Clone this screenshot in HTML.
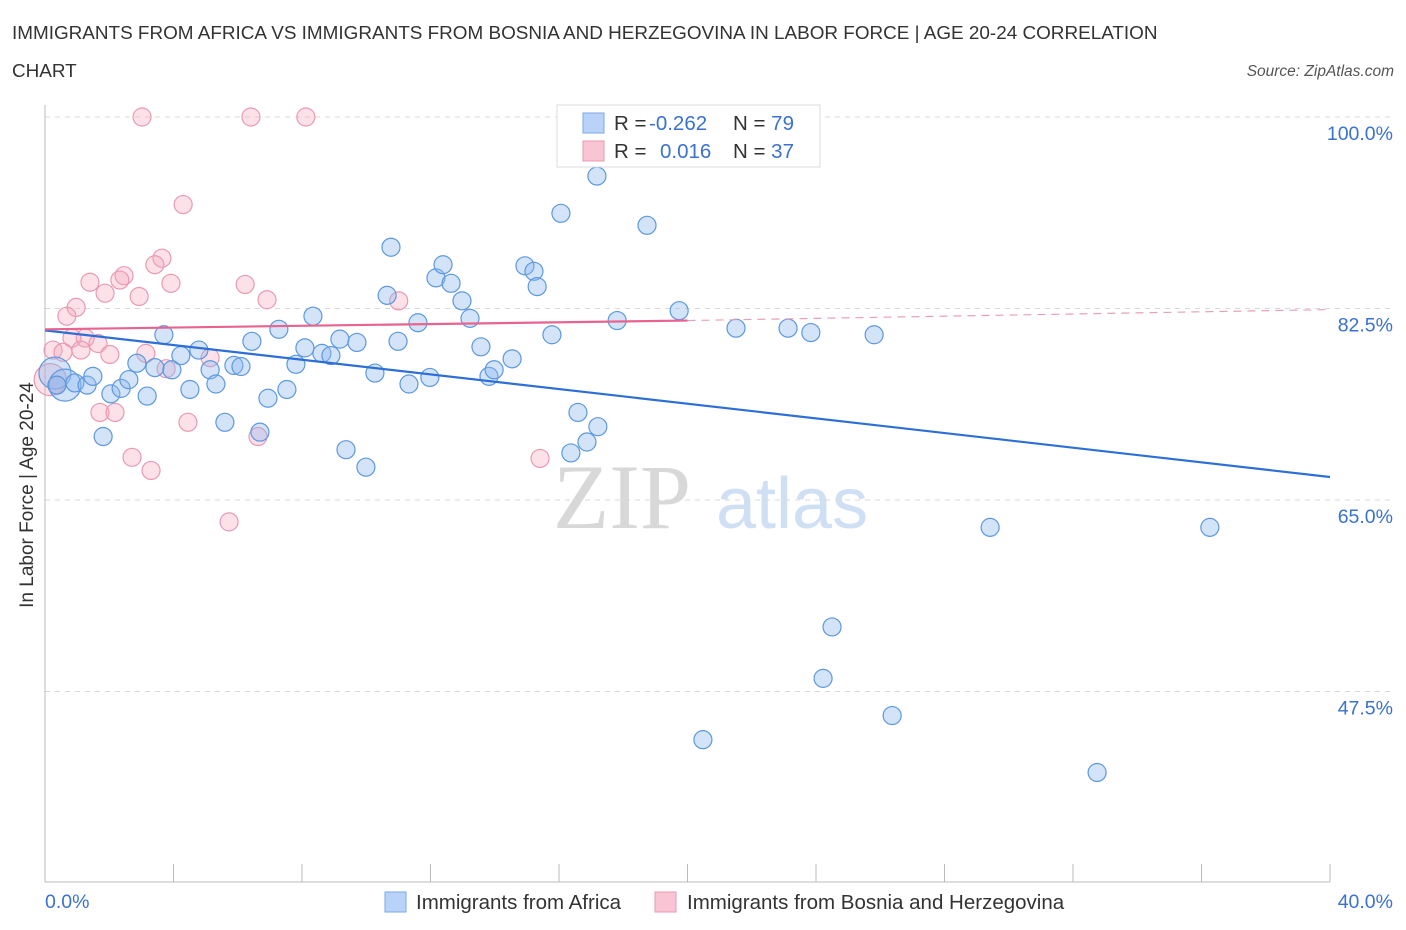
<!DOCTYPE html>
<html><head><meta charset="utf-8"><style>
body{margin:0;background:#fff;font-family:"Liberation Sans",sans-serif;}
svg{display:block}
</style></head><body>
<svg id="chart" width="1406" height="930" xmlns="http://www.w3.org/2000/svg">
<text x="12" y="39" font-size="18.9" fill="#333">IMMIGRANTS FROM AFRICA VS IMMIGRANTS FROM BOSNIA AND HERZEGOVINA IN LABOR FORCE | AGE 20-24 CORRELATION</text>
<text x="12" y="77" font-size="18.9" fill="#333">CHART</text>
<text x="1394" y="76" font-size="15.5" fill="#555" font-style="italic" text-anchor="end">Source: ZipAtlas.com</text>
<text x="33" y="495" font-size="19" fill="#333" text-anchor="middle" transform="rotate(-90 33 495)">In Labor Force | Age 20-24</text>
<g>
<text x="553" y="528" font-size="92" font-family="Liberation Serif,serif" fill="#d8d8d8">ZIP</text>
<text x="716" y="528" font-size="72" fill="#d0e0f4">atlas</text>
</g>
<g id="grid"></g><g id="axes"></g><g id="marks"></g><g id="trends"></g>
<g>
<rect x="557" y="105" width="263" height="62" fill="#fff" stroke="#ddd"/>
<rect x="583" y="113" width="21" height="20" fill="#b8d3f7" stroke="#7aaae8"/>
<rect x="583" y="141" width="21" height="20" fill="#f9c4d3" stroke="#ea9ab2"/>
<text x="614" y="130" font-size="20.5" fill="#333">R = <tspan x="649" fill="#3a72d0">-0.262</tspan><tspan x="733">N = </tspan><tspan fill="#3a72d0">79</tspan></text>
<text x="614" y="158" font-size="20.5" fill="#333">R = <tspan x="660" fill="#3a72d0">0.016</tspan><tspan x="733">N = </tspan><tspan fill="#3a72d0">37</tspan></text>
</g>
<g>
<rect x="385" y="892" width="21" height="20" fill="#b8d3f7" stroke="#7aaae8"/>
<text x="416" y="909" font-size="20.5" fill="#333">Immigrants from Africa</text>
<rect x="655" y="892" width="21" height="20" fill="#f9c4d3" stroke="#ea9ab2"/>
<text x="687" y="909" font-size="20.5" fill="#333">Immigrants from Bosnia and Herzegovina</text>
</g>
</svg>
<script>
const yTicks=[100,82.5,65,47.5];
const yTickLabels=["100.0%","82.5%","65.0%","47.5%"];
const xTicks=[0,4,8,12,16,20,24,28,32,36,40];
const xEndLabels=["0.0%","40.0%"];
const africaX=[0.31,0.62,0.93,1.31,1.49,1.81,2.05,2.37,2.61,2.86,3.18,3.42,3.70,3.95,4.23,4.51,4.79,5.14,5.32,5.60,5.88,6.10,6.44,6.69,6.94,7.28,7.53,7.81,8.09,8.34,8.62,8.90,9.18,9.37,9.71,9.99,10.27,10.65,10.77,10.99,11.33,11.61,11.98,12.17,12.39,12.64,12.98,13.23,13.57,13.82,13.98,14.54,14.94,15.22,15.32,15.78,16.06,16.37,16.59,16.87,17.18,17.21,17.81,18.74,19.74,21.51,23.13,23.84,25.81,29.42,36.26,24.50,24.22,26.37,20.48,32.75,19.36,22.01,0.37];
const africaY=[76.6,75.5,75.7,75.5,76.3,70.8,74.7,75.2,76.0,77.5,74.5,77.1,80.1,76.9,78.2,75.1,78.7,76.9,75.6,72.1,77.3,77.2,79.5,71.2,74.3,80.6,75.1,77.4,78.9,81.8,78.4,78.2,79.7,69.6,79.4,68.0,76.6,83.7,88.1,79.5,75.6,81.2,76.2,85.3,86.5,84.8,83.2,81.6,79.0,76.3,76.9,77.9,86.4,85.9,84.5,80.1,91.2,69.3,73.0,70.3,94.6,71.7,81.4,90.1,82.3,80.7,80.7,80.3,80.1,62.5,62.5,53.4,48.7,45.3,43.1,40.1,100.0,100.0,75.5];
const africaWeight=[2,2,1,1,1,1,1,1,1,1,1,1,1,1,1,1,1,1,1,1,1,1,1,1,1,1,1,1,1,1,1,1,1,1,1,1,1,1,1,1,1,1,1,1,1,1,1,1,1,1,1,1,1,1,1,1,1,1,1,1,1,1,1,1,1,1,1,1,1,1,1,1,1,1,1,1,1,1,1];
const bosniaX=[3.02,6.41,8.12,4.30,3.64,3.42,2.46,1.40,2.33,3.92,6.23,1.87,2.93,6.91,11.01,0.97,0.68,1.25,0.84,1.65,0.25,0.56,1.12,2.02,3.14,5.14,3.77,0.16,0.37,1.71,2.18,4.45,6.63,2.71,3.30,15.41,5.73];
const bosniaY=[100,100,100,92.0,87.1,86.5,85.5,84.9,85.1,84.8,84.7,83.9,83.6,83.3,83.2,82.6,81.8,79.8,79.8,79.3,78.7,78.5,78.7,78.3,78.4,78.0,77.0,76.0,75.5,73.0,73.0,72.1,70.8,68.9,67.7,68.8,63.0];
const bosniaWeight=[1,1,1,1,1,1,1,1,1,1,1,1,1,1,1,1,1,1,1,1,1,1,1,1,1,1,1,2,1,1,1,1,1,1,1,1,1];
const africaTrend=[80.5,67.1];
const bosniaTrend=[80.6,81.4,82.4];

const NS="http://www.w3.org/2000/svg";
const X0=45,X1=1330,Y100=117,PXV=10.943;
const sx=v=>X0+(v/40)*(X1-X0);
const sy=v=>Y100+(100-v)*PXV;
function mk(tag,attrs,parent){const e=document.createElementNS(NS,tag);for(const k in attrs)e.setAttribute(k,attrs[k]);parent.appendChild(e);return e;}
const grid=document.getElementById('grid'),axes=document.getElementById('axes'),marks=document.getElementById('marks'),trends=document.getElementById('trends');
yTicks.forEach((t,i)=>{
 const l=mk('line',{x1:X0,x2:1394,y1:sy(t),y2:sy(t),stroke:'#d8d8d8','stroke-dasharray':'5,5'},grid);
 
 
 const tx=mk('text',{x:1393,y:sy(t)+23,'font-size':19.5,fill:'#3a72d0','text-anchor':'end'},axes);
 tx.textContent=yTickLabels[i];
 
 
});
const ya=mk('line',{x1:X0,x2:X0,y1:105,y2:882,stroke:'#bbb'},axes);


const xa=mk('line',{x1:X0,x2:X1,y1:882,y2:882,stroke:'#bbb'},axes);


xTicks.forEach(t=>{
 const l=mk('line',{x1:sx(t),x2:sx(t),y1:864,y2:882,stroke:'#bbb'},axes);
 
 
});
const xl0=mk('text',{x:45,y:908,'font-size':19.5,fill:'#3a72d0'},axes);xl0.textContent=xEndLabels[0];


const xl1=mk('text',{x:1393,y:908,'font-size':19.5,fill:'#3a72d0','text-anchor':'end'},axes);xl1.textContent=xEndLabels[1];



function dots(xs,ys,ws,fill,stroke,name){
 xs.forEach((x,i)=>{
  const c=mk('circle',{cx:sx(x),cy:sy(ys[i]),r:ws[i]>1?16:9,fill:fill,stroke:stroke,'stroke-width':1.2},marks);
  
  
 });
}
dots(bosniaX,bosniaY,bosniaWeight,'rgba(246,170,192,0.35)','#e99ab3','point-bosnia');
dots(africaX,africaY,africaWeight,'rgba(140,185,240,0.38)','#5d98e0','point-africa');

const ta=mk('line',{x1:sx(0),y1:sy(africaTrend[0]),x2:sx(40),y2:sy(africaTrend[1]),stroke:'#2d6fd6','stroke-width':2.2},trends);


const tb=mk('line',{x1:sx(0),y1:sy(bosniaTrend[0]),x2:sx(20),y2:sy(bosniaTrend[1]),stroke:'#e8638d','stroke-width':2.2},trends);


const tbd=mk('line',{x1:sx(20),y1:sy(bosniaTrend[1]),x2:sx(40),y2:sy(bosniaTrend[2]),stroke:'#e8a0b8','stroke-width':1.2,'stroke-dasharray':'8,6'},trends);


</script>
</body></html>
